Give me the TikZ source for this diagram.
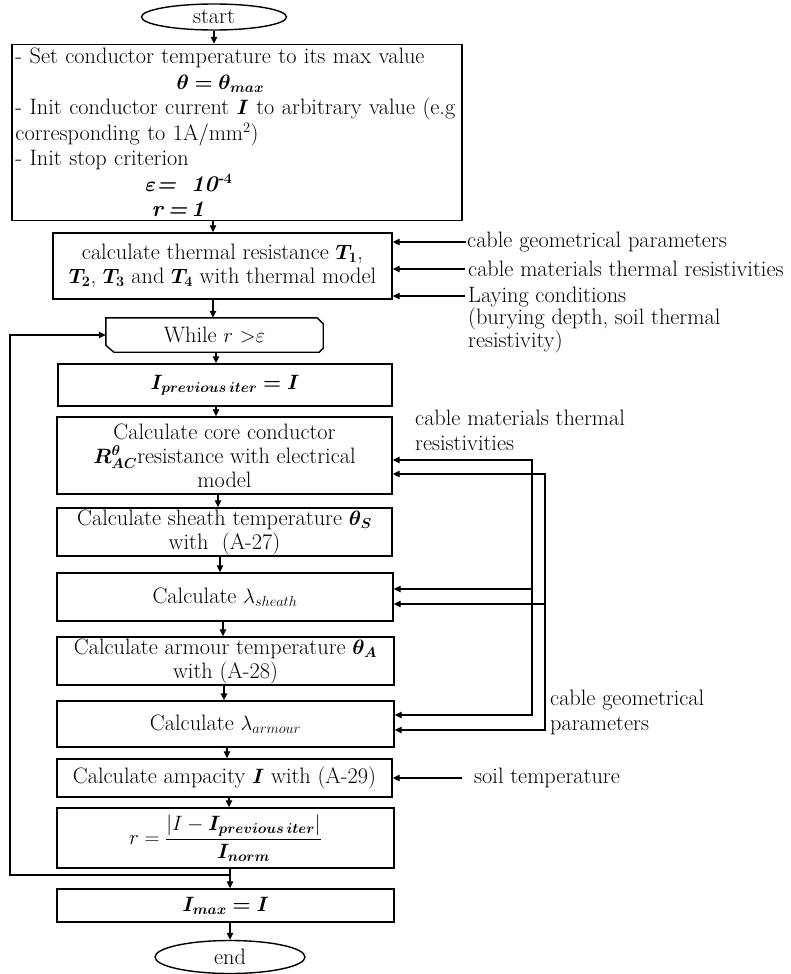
\documentclass[tikz,border=0pt]{standalone}
\usepackage{amsmath}
\usepackage{bm}
\usetikzlibrary{arrows.meta,shapes.geometric}
\tikzset{
  box/.style={draw, line width=1.4pt, rectangle, inner sep=0pt, align=center},
  term/.style={draw, line width=1.4pt, ellipse, inner sep=0pt},
  boxline/.style={draw, line width=1.4pt},
  arr/.style={line width=1.1pt, -{Triangle[length=7pt,width=6.5pt]}},
  ln/.style={line width=1.1pt},
  lab/.style={inner sep=0pt, anchor=west, align=left},
}
\begin{document}
\begin{tikzpicture}[x=1pt,y=-1pt, every node/.style={font=\fontsize{22.3}{24}\selectfont}]
\useasboundingbox (0,0) rectangle (791,974);
\fill[white] (0,0) rectangle (791,974);

% main column
\node[term, minimum width=145pt, minimum height=26pt] (start) at (214,17) {start};
\node[box, align=left, text width=443pt, inner xsep=3.5pt, minimum height=176pt,
      font=\fontsize{22.3}{25.5}\selectfont] (b1) at (237,132.5)
 {- Set conductor temperature to its max value\\
  \hspace*{161pt}$\bm{\theta=\theta_{max}}$\\
  - Init conductor current $\bm{I}$ to arbitrary value (e.g\\
  corresponding to 1A/mm$^{2}$)\\
  - Init stop criterion\\
  \hspace*{130pt}$\bm{\varepsilon}$\textbf{\textit{= \ 10$^{\text{-}\mathbf{4}}$}}\\
  \hspace*{136pt}\textbf{\textit{r}}\,\textbf{\textit{=\,1}}};
\node[box, minimum width=339pt, minimum height=66pt] (b2) at (222.5,266)
 {calculate thermal resistance $\bm{T_1}$,\\ $\bm{T_2}$, $\bm{T_3}$ and $\bm{T_4}$ with thermal model};
\node[minimum width=217pt, minimum height=34pt, inner sep=0pt] (wh) at (214.5,335) {While $r\ {>}\varepsilon$};
\draw[boxline] (wh.north west) -- ([xshift=-6pt]wh.north east) -- ([yshift=-6pt]wh.north east)
  -- ([yshift=4pt]wh.south east) -- ([xshift=-4pt]wh.south east) -- ([xshift=8pt]wh.south west)
  -- ([yshift=7pt]wh.south west) -- cycle;
\node[box, minimum width=334pt, minimum height=42pt] (ip) at (225,385) {$\bm{I_{previous\,iter}=I}$};
\node[box, minimum width=335pt, minimum height=77pt] (core) at (224.5,455.5)
 {Calculate core conductor\\ $\bm{R^{\theta}_{AC}}$resistance with electrical\\ model};
\node[box, minimum width=335pt, minimum height=48pt] (sh) at (224.5,532)
 {Calculate sheath temperature $\bm{\theta_S}$\\ with~ (A-27)};
\node[box, minimum width=336pt, minimum height=48pt] (lsh) at (225,597) {Calculate $\lambda_{sheath}$};
\node[box, minimum width=337pt, minimum height=48pt] (arm) at (225.5,661)
 {Calculate armour temperature $\bm{\theta_A}$\\ with (A-28)};
\node[box, minimum width=337pt, minimum height=46pt] (larm) at (225.5,724) {Calculate $\lambda_{armour}$};
\node[box, minimum width=335pt, minimum height=38pt] (amp) at (224.5,778) {Calculate ampacity $\bm{I}$ with (A-29)};
\node[box, minimum width=337pt, minimum height=60pt] (rb) at (225.5,838)
 {$r=\dfrac{\left|I-\bm{I_{previous\,iter}}\right|}{\bm{I_{norm}}}$};
\node[box, minimum width=337pt, minimum height=33pt] (imax) at (225.5,905.5) {$\bm{I_{max}=I}$};
\node[term, minimum width=150pt, minimum height=33pt] (end) at (230,957) {end};

% arrow x positions
\coordinate (x1) at (213,0);
\coordinate (x2) at (216,0);
\coordinate (x3) at (218,0);
\coordinate (x4) at (220,0);
\coordinate (x5) at (223,0);
\coordinate (x6) at (224,0);
\coordinate (x7) at (227,0);
\coordinate (x8) at (229,0);
\coordinate (x9) at (230,0);

\draw[arr] (start.south) -- (start.south |- b1.north);
\draw[arr] (b1.south -| x1) -- (b2.north -| x1);
\draw[arr] (b2.south -| x1) -- (wh.north -| x1);
\draw[arr] (wh.south -| x2) -- (ip.north -| x2);
\draw[arr] (ip.south -| x2) -- (core.north -| x2);
\draw[arr] (core.south -| x3) -- (sh.north -| x3);
\draw[arr] (sh.south -| x4) -- (lsh.north -| x4);
\draw[arr] (lsh.south -| x5) -- (arm.north -| x5);
\draw[arr] (arm.south -| x6) -- (larm.north -| x6);
\draw[arr] (larm.south -| x7) -- (amp.north -| x7);
\draw[arr] (amp.south -| x8) -- (rb.north -| x8);
\draw[arr] (rb.south -| x9) -- (imax.north -| x9);
\draw[arr] (imax.south -| x9) -- (end.north);

% loop back
\coordinate (lj) at (230,875);
\coordinate (ll) at (10,875);
\draw[arr] (lj) -- (ll) |- (wh.west);

% inputs to thermal resistance box
\node[lab] (L1) at (467,242) {cable geometrical parameters};
\node[lab] (L2) at (468,269) {cable materials thermal resistivities};
\node[lab, anchor=north west, font=\fontsize{22.3}{22}\selectfont] (L3) at (468,287)
 {Laying conditions\\(burying depth, soil thermal\\resistivity)};
\coordinate (L3a) at (465,296);
\draw[arr] ([xshift=-1pt]L1.west) -- (L1.west -| b2.east);
\draw[arr] ([xshift=-3pt]L2.west) -- (L2.west -| b2.east);
\draw[arr] (L3a) -- (L3a -| b2.east);

% material / geometry feeds
\node[lab, anchor=north west, font=\fontsize{22.3}{25}\selectfont] (M1) at (415,410) {cable materials thermal\\resistivities};
\node[lab, anchor=north west, font=\fontsize{22.3}{25}\selectfont] (G1) at (550,690) {cable geometrical\\parameters};
\coordinate (va1) at (532,460);
\coordinate (va2) at (532,589);
\coordinate (va3) at (532,715);
\coordinate (vb1) at (545,474);
\coordinate (vb2) at (545,604);
\coordinate (vb3) at (545,730);
\draw[arr] (va2) -- (va1) -- (va1 -| core.east);
\draw[arr] (va2) -- (va3) -- (va3 -| larm.east);
\draw[arr] (va2) -- (va2 -| lsh.east);
\draw[arr] (vb2) -- (vb1) -- (vb1 -| core.east);
\draw[arr] (vb2) -- (vb3) -- (vb3 -| larm.east);
\draw[arr] (vb2) -- (vb2 -| lsh.east);

% soil temperature
\node[lab] (S1) at (474,778) {soil temperature};
\coordinate (S1a) at (462,778);
\draw[arr] (S1a) -- (S1a -| amp.east);
\end{tikzpicture}
\end{document}
